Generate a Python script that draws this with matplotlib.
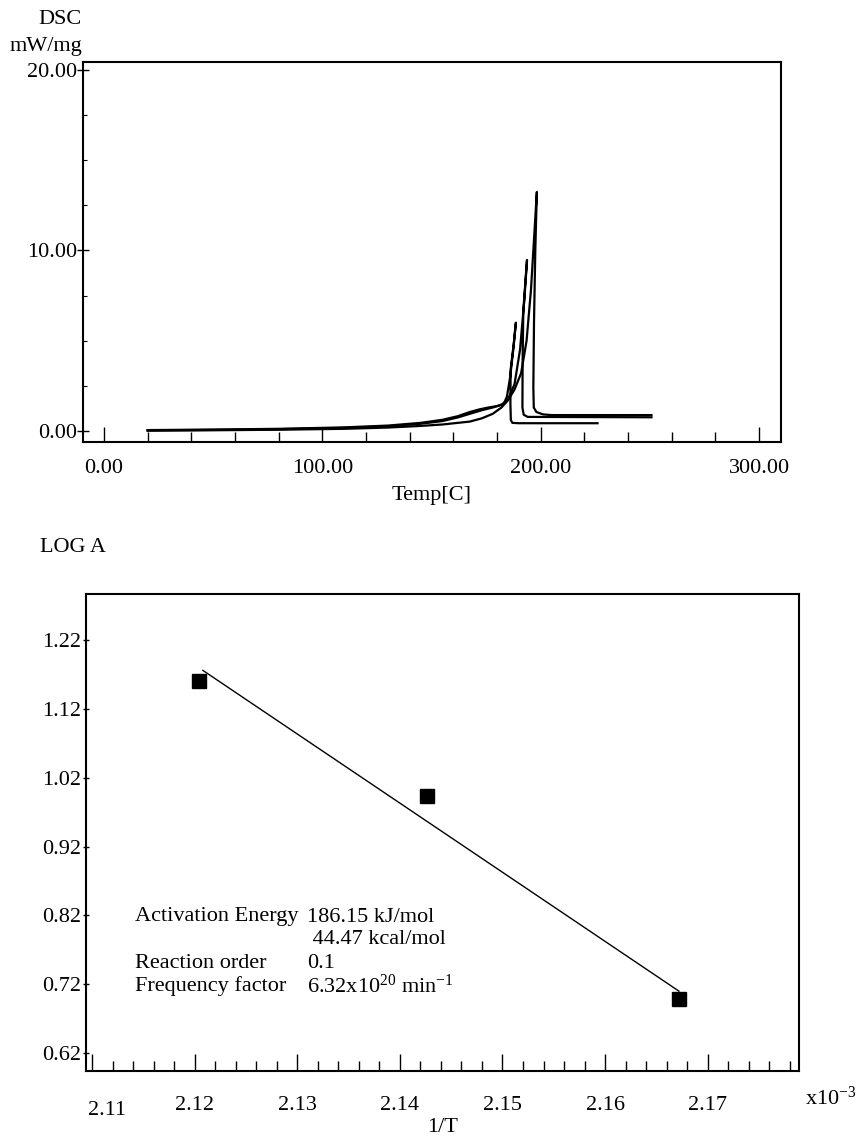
import matplotlib.pyplot as plt
from matplotlib.ticker import MultipleLocator, FormatStrFormatter

plt.rcParams['font.family'] = ['Liberation Serif', 'DejaVu Serif']
plt.rcParams['font.size'] = 16
plt.rcParams['mathtext.fontset'] = 'custom'
plt.rcParams['mathtext.rm'] = 'Liberation Serif'
plt.rcParams['mathtext.default'] = 'rm'

# DSC traces (temperature in C, heat flow in mW/mg), three heating rates
temp_1 = [20, 50, 80, 110, 130, 145, 155, 162, 167.5, 172, 176, 180, 183, 184.5,
          186, 187.5, 188.6, 187.6, 186.2, 186.1, 186.3, 187, 190, 226]
dsc_1 = [0.05, 0.08, 0.12, 0.2, 0.3, 0.45, 0.62, 0.82, 1.05, 1.2, 1.3, 1.38, 1.5, 1.9,
         3.0, 4.6, 6.0, 4.8, 3.4, 1.5, 0.6, 0.45, 0.43, 0.43]

temp_2 = [20, 50, 80, 110, 130, 145, 155, 162, 167.5, 173, 178, 182, 185, 188,
          190.5, 192.5, 193.7, 192.8, 192.0, 191.7, 191.6, 192.2, 194, 250.7]
dsc_2 = [0.03, 0.06, 0.1, 0.17, 0.26, 0.4, 0.55, 0.75, 0.95, 1.15, 1.3, 1.45, 1.75, 2.6,
         4.5, 7.3, 9.47, 8.0, 6.6, 4.0, 1.3, 0.9, 0.78, 0.76]

temp_3 = [20, 50, 80, 110, 130, 145, 155, 162, 167.5, 173, 178, 182, 185, 188, 191,
          193.5, 195.5, 197, 198.2, 197.5, 196.9, 196.6, 196.8, 198, 201, 205, 250.7]
dsc_3 = [0.02, 0.04, 0.07, 0.12, 0.19, 0.28, 0.36, 0.45, 0.52, 0.7, 0.95, 1.3, 1.7, 2.3, 3.2,
         5.0, 7.8, 10.8, 13.24, 10.0, 6.0, 2.4, 1.3, 1.05, 0.92, 0.88, 0.88]

# 1/T (x10^-3) vs LOG A
inv_T = [2.1204, 2.1426, 2.1672]
log_A = [1.161, 0.994, 0.698]
fit_x = [2.1208, 2.1672]
fit_y = [1.176, 0.710]
inv_T_ticks = [2.11, 2.12, 2.13, 2.14, 2.15, 2.16, 2.17]
log_A_ticks = [0.62, 0.72, 0.82, 0.92, 1.02, 1.12, 1.22]

fig = plt.figure(figsize=(8.57, 11.43), dpi=100)

# ---- top panel
ax1 = fig.add_axes([0.0969, 0.6133, 0.8144, 0.3325])
for t, d in [(temp_1, dsc_1), (temp_2, dsc_2), (temp_3, dsc_3)]:
    ax1.plot(t, d, color='black', lw=1.6, solid_joinstyle='round')
ax1.set_xlim(-9.6, 310)
ax1.set_ylim(-0.61, 20.44)
ax1.set_xticks([0, 100, 200, 300])
ax1.set_yticks([0, 10, 20])
ax1.xaxis.set_major_formatter(FormatStrFormatter('%.2f'))
ax1.yaxis.set_major_formatter(FormatStrFormatter('%.2f'))
ax1.xaxis.set_minor_locator(MultipleLocator(20))
ax1.yaxis.set_minor_locator(MultipleLocator(2.5))
ax1.tick_params(axis='x', which='major', direction='in', length=11, width=1, pad=12)
ax1.tick_params(axis='x', which='minor', direction='in', length=7, width=1)
ax1.tick_params(axis='y', which='major', direction='inout', length=8, width=1, pad=0)
ax1.tick_params(axis='y', which='minor', direction='in', length=3, width=0.8)
for s in ax1.spines.values():
    s.set_linewidth(1.5)
ax1.set_xlabel('Temp[C]', labelpad=6)
fig.text(82 / 857, 1 - 20 / 1143, 'DSC', ha='right', va='center')
fig.text(82 / 857, 1 - 46 / 1143, 'mW/mg', ha='right', va='center')

# ---- bottom panel
ax2 = fig.add_axes([0.1003, 0.0630, 0.8320, 0.4173])
ax2.plot(fit_x, fit_y, color='black', lw=1.0)
ax2.plot(inv_T, log_A, 's', color='black', ms=9.5)
ax2.set_xlim(2.1094, 2.1789)
ax2.set_ylim(0.594, 1.287)
# leftmost label sits a little right of its tick in the original
ax2.set_xticks(inv_T_ticks, [''] + ['%.2f' % v for v in inv_T_ticks[1:]])
ax2.text(inv_T_ticks[0] + 0.0015, -0.062, '%.2f' % inv_T_ticks[0],
         transform=ax2.get_xaxis_transform(), ha='center', va='top')
ax2.set_yticks(log_A_ticks)
ax2.yaxis.set_major_formatter(FormatStrFormatter('%.2f'))
ax2.xaxis.set_minor_locator(MultipleLocator(0.002))
ax2.tick_params(axis='x', which='major', direction='in', length=12, width=1, pad=18)
ax2.tick_params(axis='x', which='minor', direction='in', length=7, width=1)
ax2.tick_params(axis='y', which='major', direction='inout', length=5, width=1, pad=1)
for s in ax2.spines.values():
    s.set_linewidth(1.5)
ax2.set_xlabel('1/T', labelpad=2)
fig.text(40 / 857, 1 - 548 / 1143, 'LOG A', ha='left', va='center')
fig.text(805 / 857, 1 - 1098 / 1143, 'x10$^{-3}$', ha='left', va='center')

rows = [('Activation Energy', '186.15 kJ/mol'),
        ('', ' 44.47 kcal/mol'),
        ('Reaction order', '0.1'),
        ('Frequency factor', '6.32x10$^{20}$ min$^{-1}$')]
for i, (name, val) in enumerate(rows):
    y = 1 - (917 + 23 * i) / 1143
    fig.text(135 / 857, y, name, ha='left', va='center')
    fig.text(307 / 857, y, val, ha='left', va='center')

fig.savefig('out.png', dpi=100)
